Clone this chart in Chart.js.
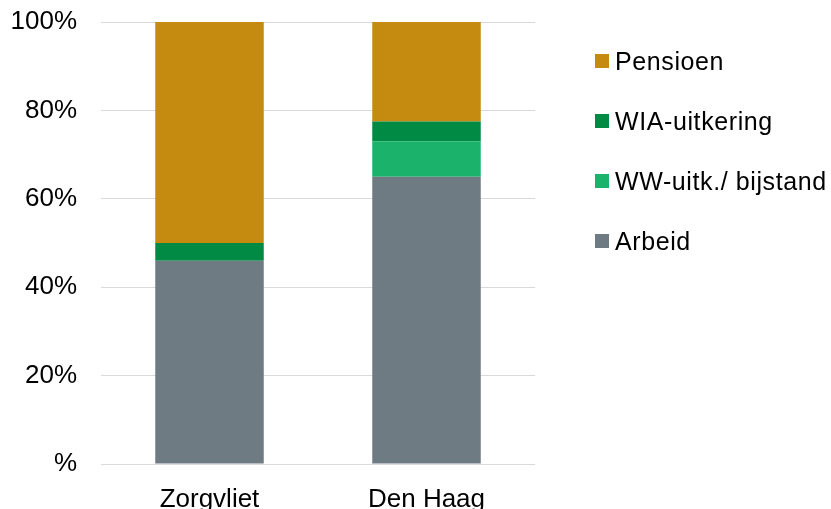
<!DOCTYPE html>
<html>
<head>
<meta charset="utf-8">
<script src="https://cdn.jsdelivr.net/npm/chart.js@4"></script>
<style>
  body { margin: 0; background: #fff; }
  #wrap { position: relative; width: 831px; height: 509px; }
  #legend { position: absolute; left: 595px; top: 0; font-family: "Liberation Sans", Arial, sans-serif; font-size: 25px; letter-spacing: 0.6px; color: #000; }
  .item { position: absolute; left: 0; white-space: nowrap; display: flex; align-items: center; height: 30px; }
  .item span.box { display: inline-block; width: 14px; height: 14px; margin-right: 6px; }
</style>
</head>
<body>
<div id="wrap">
  <canvas id="chart" width="831" height="509"></canvas>
  <div id="legend"></div>
</div>
<script>
// ------------------- Data -------------------
const categories = ['Zorgvliet', 'Den Haag'];
const arbeid = [46, 65];
const wwBijstand = [0, 8];
const wiaUitkering = [4, 4.5];
const pensioen = [50, 22.5];
const yTicks = [0, 20, 40, 60, 80, 100];

// ------------------- Series (bottom to top) -------------------
const series = [
    { label: 'Arbeid', data: arbeid, color: '#6e7b83' },
    { label: 'WW-uitk./ bijstand', data: wwBijstand, color: '#1bb36c' },
    { label: 'WIA-uitkering', data: wiaUitkering, color: '#008a44' },
    { label: 'Pensioen', data: pensioen, color: '#c58a10' }
];

const font = { family: '"Liberation Sans", Arial, sans-serif', size: 26 };

const ctx = document.getElementById('chart').getContext('2d');
new Chart(ctx, {
    type: 'bar',
    data: {
        labels: categories,
        datasets: series.map(s => ({
            label: s.label,
            data: s.data,
            backgroundColor: s.color,
            borderWidth: 0,
            categoryPercentage: 1,
            barPercentage: 0.5
        }))
    },
    options: {
        responsive: false,
        animation: false,
        layout: { autoPadding: false, padding: { top: 22, right: 296, bottom: 0, left: 0 } },
        plugins: { legend: { display: false }, tooltip: { enabled: false } },
        scales: {
            x: {
                stacked: true,
                grid: { display: false },
                border: { display: false },
                ticks: { color: '#000', font: font, padding: 12 },
                afterFit: scale => { scale.height = 45; }
            },
            y: {
                stacked: true,
                min: yTicks[0],
                max: yTicks[yTicks.length - 1],
                grid: { color: '#d9d9d9', lineWidth: 1, drawTicks: false },
                border: { display: false },
                ticks: {
                    color: '#000',
                    font: font,
                    padding: 24,
                    stepSize: yTicks[1] - yTicks[0],
                    callback: v => (v === 0 ? '' : v) + '%'
                },
                afterFit: scale => {
                    // fixed axis width, and no extra room above/below for the labels
                    scale.width = 101;
                    scale.paddingTop = 0;
                    scale.paddingBottom = 0;
                }
            }
        }
    }
});

// ------------------- Legend (top to bottom) -------------------
const legendEl = document.getElementById('legend');
const legendTops = [46, 106, 166, 226];
series.slice().reverse().forEach((s, i) => {
    const div = document.createElement('div');
    div.className = 'item';
    div.style.top = legendTops[i] + 'px';
    div.innerHTML = '<span class="box" style="background:' + s.color + '"></span>' + s.label;
    legendEl.appendChild(div);
});
</script>
</body>
</html>
